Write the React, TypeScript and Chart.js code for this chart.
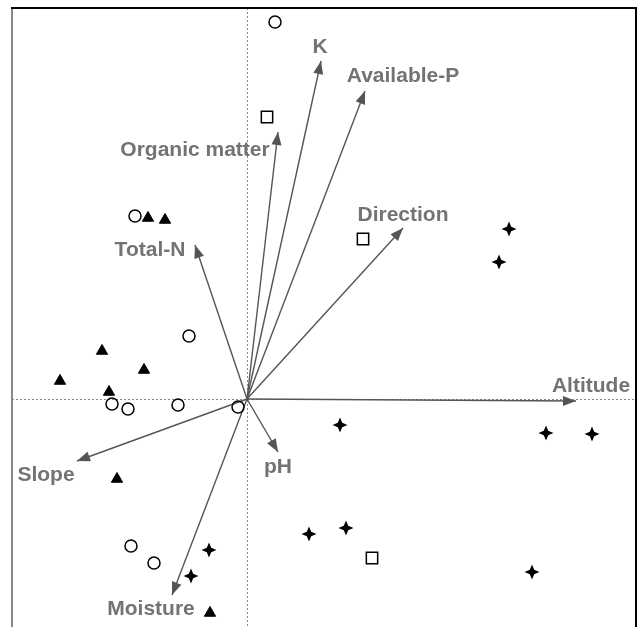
import React, { useEffect, useRef } from "react";
import { Chart, registerables } from "chart.js";

Chart.register(...registerables);

// Site scores, grouped by marker type
const circleX = [0.28, -1.12, -0.58, -1.35, -1.19, -0.69, -0.09, -1.16, -0.93];
const circleY = [3.77, 1.83, 0.63, -0.05, -0.1, -0.06, -0.08, -1.47, -1.64];

const triangleX = [-0.99, -0.82, -1.45, -1.03, -1.87, -1.38, -1.3, -0.37];
const triangleY = [1.81, 1.79, 0.48, 0.29, 0.18, 0.07, -0.8, -2.14];

const squareX = [0.2, 1.16, 1.25];
const squareY = [2.82, 1.6, -1.59];

const starX = [2.62, 2.52, 0.93, 2.99, 3.45, 0.62, 0.99, -0.38, -0.56, 2.85];
const starY = [1.7, 1.37, -0.26, -0.34, -0.35, -1.35, -1.29, -1.51, -1.77, -1.73];

// Environmental variable vectors
const envNames = ["K", "Available-P", "Organic matter", "Direction", "Total-N", "Altitude", "Slope", "pH", "Moisture"];
const envX = [0.74, 1.18, 0.31, 1.56, -0.52, 3.29, -1.7, 0.31, -0.75];
const envY = [3.38, 3.08, 2.67, 1.71, 1.54, -0.02, -0.62, -0.53, -1.96];
// Label anchor points (center x, baseline y)
const labelX = [0.73, 1.56, -0.52, 1.56, -0.97, 3.44, -2.01, 0.31, -0.96];
const labelY = [3.46, 3.17, 2.43, 1.78, 1.43, 0.07, -0.82, -0.74, -2.16];

const xRange = [-2.35, 3.89];
const yRange = [-2.71, 3.91];

function makeStar(): HTMLCanvasElement {
  const c = document.createElement("canvas");
  c.width = 16;
  c.height = 16;
  const g = c.getContext("2d")!;
  g.fillStyle = "#000";
  g.beginPath();
  const cx = 8, cy = 8, R = 7.5, r = 3.1;
  for (let i = 0; i < 8; i++) {
    const a = -Math.PI / 2 + (i * Math.PI) / 4;
    const rad = i % 2 === 0 ? R : r;
    const px = cx + rad * Math.cos(a);
    const py = cy + rad * Math.sin(a);
    if (i === 0) g.moveTo(px, py);
    else g.lineTo(px, py);
  }
  g.closePath();
  g.fill();
  return c;
}

const zip = (xs: number[], ys: number[]) => xs.map((x, i) => ({ x, y: ys[i] }));

export default function App() {
  const ref = useRef<HTMLCanvasElement | null>(null);

  useEffect(() => {
    if (!ref.current) return;
    const star = makeStar();
    const arrowColor = "#555555";

    const arrowSets = envNames.map((name, i) => ({
      type: "scatter" as const,
      label: name,
      data: [{ x: 0, y: 0 }, { x: envX[i], y: envY[i] }],
      showLine: true,
      borderColor: arrowColor,
      borderWidth: 1.4,
      pointRadius: 0,
      order: 5,
    }));

    const overlay = {
      id: "overlay",
      beforeDatasetsDraw(chart: any) {
        const { ctx, chartArea: a, scales } = chart;
        const x0 = scales.x.getPixelForValue(0);
        const y0 = scales.y.getPixelForValue(0);
        ctx.save();
        ctx.strokeStyle = "#888";
        ctx.lineWidth = 1;
        ctx.setLineDash([2, 2]);
        ctx.beginPath();
        ctx.moveTo(Math.round(x0) + 0.5, a.top);
        ctx.lineTo(Math.round(x0) + 0.5, a.bottom);
        ctx.moveTo(a.left, Math.round(y0) + 0.5);
        ctx.lineTo(a.right, Math.round(y0) + 0.5);
        ctx.stroke();
        ctx.restore();
      },
      afterDatasetsDraw(chart: any) {
        const { ctx, scales } = chart;
        const x0 = scales.x.getPixelForValue(0);
        const y0 = scales.y.getPixelForValue(0);
        ctx.save();
        ctx.fillStyle = arrowColor;
        envNames.forEach((_, i) => {
          const tx = scales.x.getPixelForValue(envX[i]);
          const ty = scales.y.getPixelForValue(envY[i]);
          const ang = Math.atan2(ty - y0, tx - x0);
          const len = 13, hw = 5;
          const bx = tx - len * Math.cos(ang);
          const by = ty - len * Math.sin(ang);
          ctx.beginPath();
          ctx.moveTo(tx, ty);
          ctx.lineTo(bx + hw * Math.sin(ang), by - hw * Math.cos(ang));
          ctx.lineTo(bx - hw * Math.sin(ang), by + hw * Math.cos(ang));
          ctx.closePath();
          ctx.fill();
        });
        ctx.fillStyle = "#737373";
        ctx.font = "bold 21px 'Liberation Sans', Arial, sans-serif";
        ctx.textAlign = "center";
        ctx.textBaseline = "alphabetic";
        envNames.forEach((name, i) => {
          ctx.fillText(name, scales.x.getPixelForValue(labelX[i]), scales.y.getPixelForValue(labelY[i]));
        });
        ctx.restore();
      },
      afterDraw(chart: any) {
        const { ctx, chartArea: a } = chart;
        ctx.save();
        ctx.lineWidth = 2;
        ctx.strokeStyle = "#888";
        ctx.beginPath();
        ctx.moveTo(a.left, a.top);
        ctx.lineTo(a.left, a.bottom);
        ctx.stroke();
        ctx.strokeStyle = "#000";
        ctx.beginPath();
        ctx.moveTo(a.left - 1, a.top);
        ctx.lineTo(a.right, a.top);
        ctx.lineTo(a.right, a.bottom);
        ctx.stroke();
        ctx.restore();
      },
    };

    const chart = new Chart(ref.current, {
      type: "scatter",
      data: {
        datasets: [
          {
            label: "circles",
            data: zip(circleX, circleY),
            pointStyle: "circle",
            pointRadius: 6,
            borderColor: "#000",
            borderWidth: 1.5,
            backgroundColor: "rgba(0,0,0,0)",
            order: 1,
          },
          {
            label: "triangles",
            data: zip(triangleX, triangleY),
            pointStyle: "triangle",
            pointRadius: 6.5,
            borderColor: "#000",
            borderWidth: 1,
            backgroundColor: "#000",
            order: 1,
          },
          {
            label: "squares",
            data: zip(squareX, squareY),
            pointStyle: "rect",
            pointRadius: 8,
            borderColor: "#000",
            borderWidth: 1.5,
            backgroundColor: "rgba(0,0,0,0)",
            order: 1,
          },
          {
            label: "stars",
            data: zip(starX, starY),
            pointStyle: star as any,
            pointRadius: 7,
            order: 1,
          },
          ...arrowSets,
        ] as any,
      },
      options: {
        responsive: false,
        animation: false,
        layout: { autoPadding: false, padding: { left: 12, top: 8, right: 6, bottom: 10 } },
        plugins: { legend: { display: false }, tooltip: { enabled: false } },
        scales: {
          x: { type: "linear", min: xRange[0], max: xRange[1], display: false },
          y: { type: "linear", min: yRange[0], max: yRange[1], display: false },
        },
      },
      plugins: [overlay],
    });
    return () => chart.destroy();
  }, []);

  return (
    <div style={{ position: "fixed", left: 0, top: 0, width: 642, height: 627, overflow: "hidden", background: "#fff" }}>
      <canvas ref={ref} width={642} height={680} style={{ display: "block" }} />
    </div>
  );
}
